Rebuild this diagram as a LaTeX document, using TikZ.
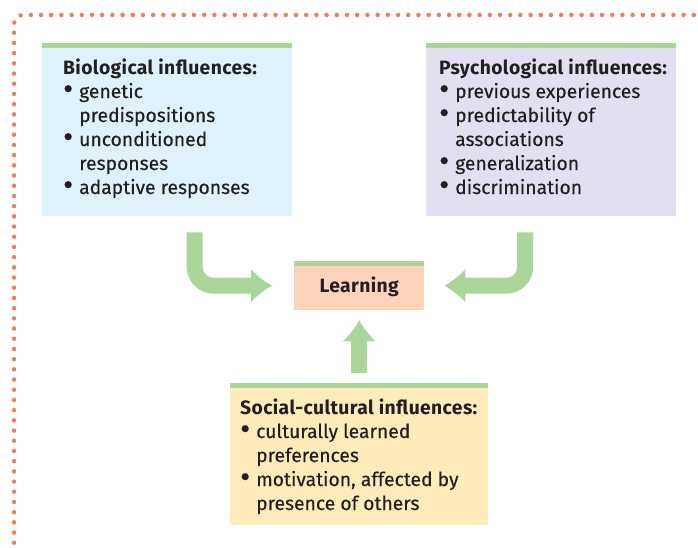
\documentclass[tikz,border=0pt]{standalone}
\usepackage{fontspec}
\setmainfont{Fira Sans}[UprightFeatures={FakeBold=0.3}, BoldFeatures={LetterSpace=2}]
\usetikzlibrary{calc}
\definecolor{dotred}{RGB}{245,122,90}
\definecolor{arrgreen}{RGB}{170,214,156}
\definecolor{bioblue}{RGB}{223,241,251}
\definecolor{psylav}{RGB}{226,223,240}
\definecolor{learnpeach}{RGB}{253,211,186}
\definecolor{socyellow}{RGB}{255,236,186}
\definecolor{ink}{RGB}{35,31,32}
\newcommand{\bl}{\makebox[16pt][l]{\raisebox{-1.2pt}{\scalebox{1.6}{\textbullet}}}}
\newcommand{\ind}{\hspace*{16pt}}
\tikzset{
  box/.style={draw=none, inner sep=0pt, anchor=north west},
  boxtext/.style={anchor=base west, inner sep=0pt, align=left, text=ink,
    font=\fontsize{19.3}{24}\selectfont},
  shaft/.style={draw=arrgreen, line width=16pt},
  pics/ahead/.style={code={
    \fill[arrgreen] (0,0) .. controls (-7,4) and (-14,9) .. (-21,16.5)
      -- (-21,-16.5) .. controls (-14,-9) and (-7,-4) .. (0,0) -- cycle;
  }},
}
\begin{document}
\begin{tikzpicture}[x=1pt,y=-1pt]
\useasboundingbox (0,0) rectangle (698,547);
% dotted frame
\draw[dotred, line width=4.5pt, line cap=round, dash pattern=on 0pt off 10.2pt, rounded corners=9pt]
  (704,15) -- (14,15) -- (14,552);
% boxes
\node[box, fill=bioblue, minimum width=250pt, minimum height=173pt] (bio) at (42,43) {};
\node[box, fill=psylav, minimum width=250pt, minimum height=173pt] (psy) at (426,43) {};
\node[box, fill=learnpeach, minimum width=130pt, minimum height=49pt] (learn) at (294,261) {};
\node[box, fill=socyellow, minimum width=258pt, minimum height=142pt] (soc) at (230,383) {};
\foreach \b in {bio,psy,learn,soc}{
  \fill[arrgreen] (\b.north west) rectangle ([yshift=-5pt]\b.north east);
}
% texts (anchored at the baseline of the last line)
\node[boxtext] (biot) at (63,194) {\textbf{Biological influences:}\\
\bl genetic\\ \ind predispositions\\ \bl unconditioned\\ \ind responses\\ \bl adaptive responses};
\node[boxtext] (psyt) at (439,194) {\textbf{Psychological influences:}\\
\bl previous experiences\\ \bl predictability of\\ \ind associations\\ \bl generalization\\ \bl discrimination};
\node[boxtext] (soct) at (240,510) {\textbf{Social-cultural influences:}\\
\bl culturally learned\\ \ind preferences\\ \bl motivation, affected by\\ \ind presence of others};
\node[anchor=base, inner sep=0pt, text=ink, font=\fontsize{19.3}{22}\selectfont\bfseries] (learnt) at ([yshift=-7pt]learn.center) {Learning};
% arrows
\coordinate (lt) at ([xshift=-22pt]learn.west);
\coordinate (rt) at ([xshift=20pt]learn.east);
\coordinate (ut) at ([yshift=-10pt]learn.south);
\draw[shaft, rounded corners=19pt] ([xshift=27.5pt,yshift=-16pt]bio.south) |- ([xshift=-20pt]lt);
\pic at (lt) {ahead};
\draw[shaft, rounded corners=19pt] ([xshift=-26pt,yshift=-16pt]psy.south) |- ([xshift=20pt]rt);
\pic[rotate=180] at (rt) {ahead};
\draw[shaft] ([yshift=10pt]soc.north) -- ([yshift=-21pt]ut);
\pic[rotate=90] at (ut) {ahead};
\end{tikzpicture}
\end{document}
